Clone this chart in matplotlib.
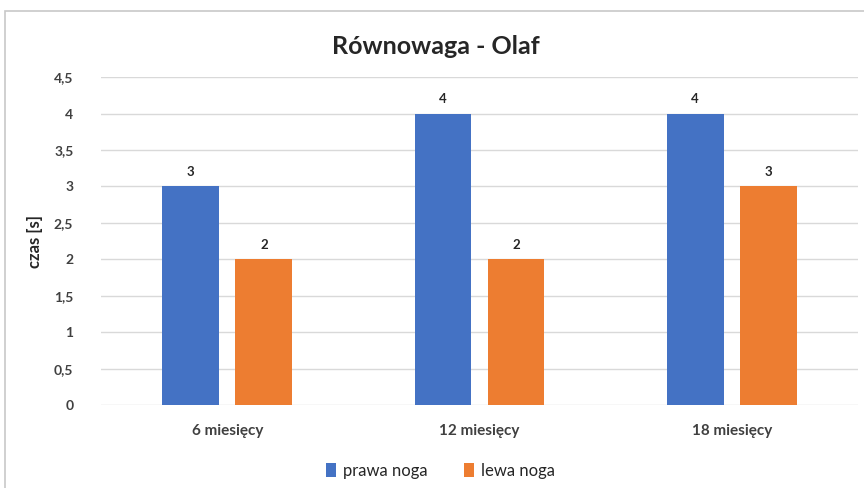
import matplotlib.pyplot as plt
import numpy as np
from matplotlib.patches import Rectangle

categories = ["6 miesięcy", "12 miesięcy", "18 miesięcy"]
prawa = [3, 4, 4]
lewa = [2, 2, 3]
yticks = [0, 0.5, 1, 1.5, 2, 2.5, 3, 3.5, 4, 4.5]
ytick_labels = ["0", "0,5", "1", "1,5", "2", "2,5", "3", "3,5", "4", "4,5"]

plt.rcParams["font.family"] = ["Lato", "DejaVu Sans"]

fig = plt.figure(figsize=(8.64, 4.88), dpi=100)
ax = fig.add_axes([0.117, 0.170, 0.876, 0.672])

# chart frame
fig.patches.append(Rectangle((0.006, -0.01), 1.0, 0.988, transform=fig.transFigure,
                             fill=False, edgecolor="#c8c8c8", linewidth=1.2))

x = np.arange(len(categories))
w = 0.225
off = 0.145
b1 = ax.bar(x - off, prawa, w, color="#4472C4", label="prawa noga", zorder=3)
b2 = ax.bar(x + off, lewa, w, color="#ED7D31", label="lewa noga", zorder=3)

for bars in (b1, b2):
    for r in bars:
        ax.text(r.get_x() + r.get_width() / 2, r.get_height() + 0.12, f"{r.get_height():g}",
                ha="center", va="bottom", fontsize=9.5, fontweight="bold", color="#262626")

ax.set_xlim(-0.5, 2.5)
ax.set_ylim(0, 4.5)
ax.set_yticks(yticks)
ax.set_yticklabels(ytick_labels)
ax.set_xticks(x)
ax.set_xticklabels(categories)
ax.tick_params(axis="y", length=0, labelsize=10, labelcolor="#404040", pad=20)
ax.tick_params(axis="x", length=0, labelsize=11, labelcolor="#404040", pad=14)
for lab in ax.get_xticklabels() + ax.get_yticklabels():
    lab.set_fontweight("bold")

ax.grid(axis="y", color="#d9d9d9", linewidth=1, zorder=0)
for s in ax.spines.values():
    s.set_visible(False)

ax.set_ylabel("czas [s]", fontsize=12, fontweight="bold", color="#262626", labelpad=8)
fig.text(0.505, 0.905, "Równowaga - Olaf", ha="center", va="center",
         fontsize=18, fontweight="bold", color="#262626")

fig.legend(handles=[b1, b2], loc="center", bbox_to_anchor=(0.51, 0.035), ncol=2,
           frameon=False, fontsize=12, handlelength=0.6, handleheight=0.9,
           columnspacing=2.2, handletextpad=0.4, labelcolor="#262626")

fig.savefig("out.png", dpi=100)
